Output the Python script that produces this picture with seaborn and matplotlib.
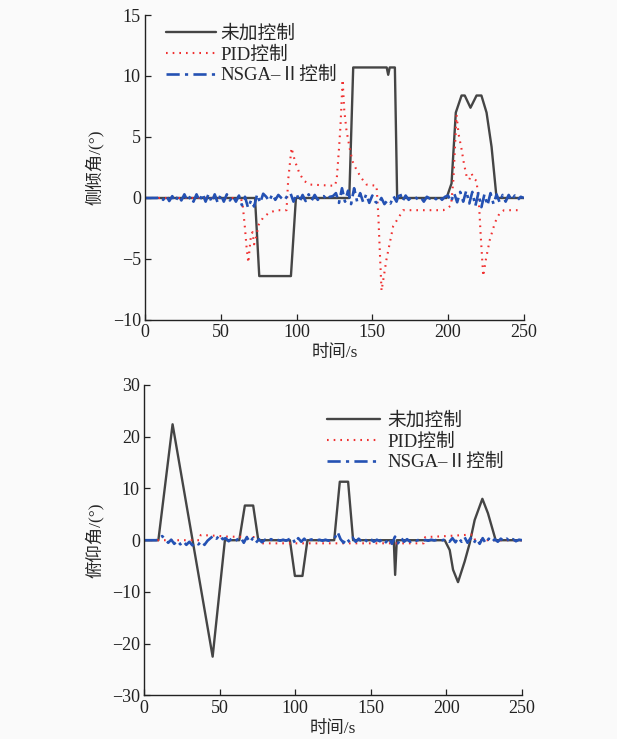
import numpy as np
import pandas as pd
import matplotlib
matplotlib.use("Agg")
import matplotlib.pyplot as plt
import seaborn as sns

# ---------------- data ----------------
# Top chart: roll angle
roll_none_t = [0, 72.6, 75.4, 96.3, 99.6, 134.8, 137.4, 159.5, 160.5, 161.5, 164.9, 166.4,
               199, 202.3, 205.1, 208.9, 211, 214.8, 218.8, 222, 225.4, 228.7, 232, 250]
roll_none_v = [0, 0, -6.4, -6.4, 0, 0, 10.7, 10.7, 10.1, 10.7, 10.7, 0,
               0, 1.2, 7.0, 8.4, 8.4, 7.4, 8.4, 8.4, 7.0, 4.2, 0, 0]

roll_pid_t = [0, 58, 60, 62, 63.5, 64.5, 66, 67, 68.2, 69, 70, 71, 72, 73, 75, 78, 82, 86.9,
              93.4, 94.5, 96.7, 99, 102, 105, 108.8, 125.3, 126.5, 128, 129, 130.4, 131.5,
              133, 135.2, 137, 139.6, 143, 146.2, 152.8, 154, 155, 156.1, 157.5, 159.4,
              163.8, 170.4, 196.8, 200, 202, 203.5, 205.6, 207, 208.9, 210.5, 212.2, 214,
              215.5, 217, 218.8, 220.5, 221.5, 223.2, 225, 227.6, 231, 234.2, 237, 248.5]
roll_pid_v = [0, 0, -0.2, 0.1, -0.1, -0.6, -2.5, -4.0, -5.3, -4.2, -3.0, -2.8, -3.8, -3.4,
              -2.2, -1.6, -1.2, -1.0,
              -1.0, 1.5, 4.1, 3.0, 2.0, 1.4, 1.1, 1.0, 1.5, 4.0, 5.9, 9.7, 7.2,
              5.5, 4.0, 3.0, 2.3, 1.6, 1.1, 1.0, -1.5, -4.5, -7.6, -6.5, -5.0,
              -2.3, -1.0, -1.0, -0.8, -0.6, 1.5, 6.8, 5.2, 4.0, 2.8, 1.8, 1.5,
              2.0, 1.6, 1.4, -0.7, -3.0, -6.4, -5.0, -3.4, -2.0, -1.2, -1.0, -1.0]

nsga_step_t = list(range(0, 251, 2))
roll_nsga_v = [0, 0, 0, 0, 0, 0.1, -0.15, 0.2, -0.25, 0.15,
               -0.3, 0.2, -0.2, 0.3, -0.25, 0.15, -0.3, 0.3, -0.25, 0.35,
               -0.3, 0.35, -0.35, 0.3, -0.4, 0.3, -0.3, 0.3, -0.2, 0.15,
               -0.3, 0.2, -0.6, 0.1, -0.8, -0.2, -0.7, 0.3, -0.4, 0.35,
               0.1, -0.25, 0.3, -0.15, 0.25, 0.0, -0.2, 0.2, 0.4, -0.3,
               0.35, -0.3, 0.25, -0.25, 0.3, -0.2, 0.25, -0.15, 0.1, 0.15,
               -0.15, 0.1, 0.15, 0.4, -0.4, 0.8, -0.3, 0.6, -0.5, 0.8,
               -0.3, 0.4, -0.35, 0.3, -0.4, 0.2, -0.3, -0.5, 0.0, -0.5,
               -0.2, -0.45, 0.15, -0.3, 0.5, -0.25, 0.2, -0.15, 0.1, 0.1,
               -0.1, 0.05, -0.3, 0.1, -0.05, 0.1, -0.1, 0.15, -0.15, 0.1,
               0.2, -0.3, 0.4, -0.35, 0.5, -0.3, 0.6, -0.45, 0.5, -0.65,
               0.4, -0.75, 0.3, -0.6, 0.4, -0.5, 0.3, -0.35, 0.25, -0.3,
               0.25, -0.2, 0.2, -0.15, 0.1, 0.0]

# Bottom chart: pitch angle
pitch_none_t = [0, 9.5, 18.9, 45.4, 53.5, 63, 66.7, 72.2, 75.6, 96.5, 99.8, 104.8, 108.1,
                125.8, 129.5, 135, 138.3, 165.2, 166.1, 167.2, 198.9, 202.2, 204.4, 207.7,
                212.1, 215.4, 218.7, 223.8, 227.5, 232.6, 250]
pitch_none_v = [0, 0, 22.4, -22.5, 0, 0, 6.7, 6.7, 0, 0, -6.9, -6.9, 0,
                0, 11.3, 11.3, 0, 0, -6.7, 0, 0, -1.9, -5.7, -8.1,
                -4.1, -0.6, 3.9, 8.0, 5.2, 0, 0]

pitch_pid_t = [0, 37, 37.5, 45, 55, 75, 76, 77, 185, 186, 200, 217.6, 219, 250]
pitch_pid_v = [0, 0, 1.0, 0.9, 0.7, 0.6, 0, -0.6, -0.6, 0.6, 0.8, 1.1, 0, 0]

pitch_nsga_v = [0, 0, 0, 0, 0, 0.2, 0.8, 0.2, -0.5, 0.1,
                -0.7, -0.1, -0.8, -0.2, -0.9, -0.3, -1.0, -0.4, -0.8, -0.2,
                -0.9, -0.1, 0.4, 0.9, 0.3, 1.0, 0.2, 0.4, -0.2, 0.3,
                -0.2, 0.2, 0.5, -0.5, 0.6, -0.4, 0.4, -0.5, 0.2, -0.4,
                0.1, -0.2, 0.2, -0.1, 0.1, -0.1, 0.1, -0.1, 0.2, 0.5,
                -0.6, 0.4, -0.3, 0.3, -0.4, 0.1, 0.2, -0.1, 0.1, -0.1,
                0.1, -0.1, 0.1, 0.3, 1.6, 0.2, -0.5, 0.4, -0.4, 0.5,
                -0.3, 0.3, -0.3, 0.2, -0.4, 0.2, -0.3, 0.1, -0.2, 0.3,
                -0.4, 0.4, -0.7, 0.7, -0.6, 0.5, -0.3, 0.2, -0.3, 0.1,
                -0.1, 0.1, -0.1, 0.05, -0.1, 0.1, -0.05, 0.1, -0.1, 0.05,
                0.2, -0.3, 0.4, -0.4, 0.5, -0.3, 0.6, -0.5, 0.4, -0.6,
                0.3, -0.7, 0.4, -0.6, 0.3, -0.4, 0.2, -0.3, 0.3, -0.2,
                0.3, -0.3, 0.2, -0.2, 0.1, 0.0]

labels = ["未加控制", "PID控制", "NSGA–Ⅱ控制"]
x_ticks = [0, 50, 100, 150, 200, 250]
roll_ticks = [-10, -5, 0, 5, 10, 15]
pitch_ticks = [-30, -20, -10, 0, 10, 20, 30]
x_label = "时间/s"
roll_label = "侧倾角/(°)"
pitch_label = "俯仰角/(°)"

# ---------------- style ----------------
sns.set_style("ticks")
FAM = ["Liberation Serif", "Noto Sans CJK SC", "DejaVu Sans"]
plt.rcParams["font.family"] = FAM
plt.rcParams["axes.unicode_minus"] = True

BG = "#fafafa"
C_NONE = "#454545"
C_PID = "#f03030"
C_NSGA = "#2451b3"

fig = plt.figure(figsize=(6.17, 7.39), dpi=100, facecolor=BG)
ax1 = fig.add_axes([0.235, 0.567, 0.614, 0.4127])
ax2 = fig.add_axes([0.2334, 0.0589, 0.6126, 0.4202])


def draw(ax, t_none, v_none, t_pid, v_pid, v_nsga):
    ax.set_facecolor(BG)
    sns.lineplot(x=t_none, y=v_none, ax=ax, color=C_NONE, lw=1.7,
                 label=labels[0], estimator=None, sort=False)
    sns.lineplot(x=t_pid, y=v_pid, ax=ax, color=C_PID, lw=1.5,
                 label=labels[1], estimator=None, sort=False)
    ax.lines[-1].set_linestyle((0, (0.8, 2.4)))
    sns.lineplot(x=nsga_step_t, y=v_nsga, ax=ax, color=C_NSGA, lw=1.9,
                 label=labels[2], estimator=None, sort=False)
    ax.lines[-1].set_linestyle((0, (5, 2, 1.2, 2)))
    ax.set_xlim(0, 250)
    ax.set_xticks(x_ticks)
    for s in ["top", "right"]:
        ax.spines[s].set_visible(False)
    for s in ["left", "bottom"]:
        ax.spines[s].set_linewidth(1.0)
        ax.spines[s].set_color("#222222")
    ax.tick_params(direction="in", length=4, width=0.9, labelsize=13,
                   colors="#222222", pad=3)
    ax.set_xlabel(x_label, fontsize=12.5, labelpad=3)


draw(ax1, roll_none_t, roll_none_v, roll_pid_t, roll_pid_v, roll_nsga_v)
ax1.set_ylim(-10, 15)
ax1.set_yticks(roll_ticks)
ax1.set_ylabel(roll_label, fontsize=12.5, labelpad=6)
ax1.legend(loc="upper left", bbox_to_anchor=(0.02, 1.01), frameon=False,
           fontsize=13.5, handlelength=2.7, handletextpad=0.2, labelspacing=0.2,
           borderaxespad=0.3)

draw(ax2, pitch_none_t, pitch_none_v, pitch_pid_t, pitch_pid_v, pitch_nsga_v)
ax2.set_ylim(-30, 30)
ax2.set_yticks(pitch_ticks)
ax2.set_ylabel(pitch_label, fontsize=12.5, labelpad=6)
ax2.legend(loc="upper left", bbox_to_anchor=(0.45, 0.955), frameon=False,
           fontsize=13.5, handlelength=2.8, handletextpad=0.4, labelspacing=0.2,
           borderaxespad=0.3)

fig.savefig("out.png", dpi=100, facecolor=BG)
